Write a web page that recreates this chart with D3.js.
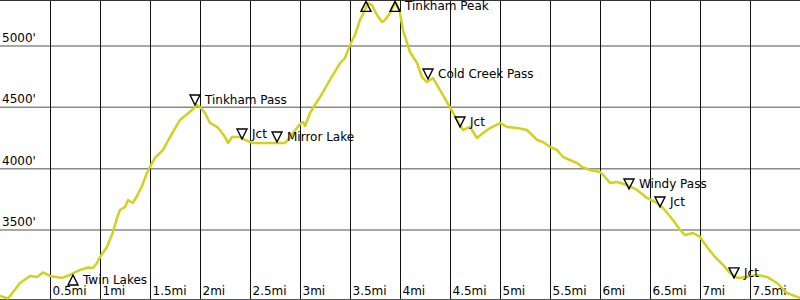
<!DOCTYPE html>
<html><head><meta charset="utf-8">
<script src="https://cdn.jsdelivr.net/npm/d3@7"></script>
<style>body{margin:0;background:#fff}svg{display:block}</style>
</head><body><svg id="c" width="800" height="300"></svg>
<script>
const miles = [0,0.08,0.2,0.3,0.37,0.43,0.5,0.62,0.7,0.8,0.88,0.93,0.97,1.0,1.07,1.13,1.17,1.2,1.25,1.28,1.33,1.37,1.42,1.47,1.5,1.55,1.63,1.7,1.8,1.92,1.97,2.0,2.05,2.1,2.17,2.2,2.25,2.28,2.32,2.4,2.45,2.53,2.7,2.85,2.9,3.0,3.03,3.05,3.1,3.2,3.3,3.4,3.45,3.5,3.55,3.6,3.65,3.68,3.72,3.77,3.82,3.85,3.9,3.93,3.96,4.0,4.03,4.1,4.17,4.22,4.27,4.33,4.4,4.47,4.53,4.6,4.63,4.7,4.77,4.83,4.9,5.0,5.07,5.17,5.27,5.37,5.43,5.5,5.57,5.63,5.77,5.82,5.9,6.0,6.05,6.1,6.17,6.27,6.37,6.47,6.57,6.63,6.73,6.8,6.85,6.93,7.0,7.07,7.15,7.23,7.3,7.37,7.47,7.57,7.67,7.77,7.87,7.97,8.0];
const elevation = [2958,2937,3064,3121,3113,3150,3121,3105,3129,3170,3190,3186,3227,3276,3357,3480,3594,3659,3683,3740,3716,3773,3855,3961,4010,4083,4148,4254,4393,4474,4515,4499,4450,4368,4336,4311,4254,4205,4254,4254,4230,4205,4205,4205,4254,4360,4376,4344,4450,4580,4719,4857,4898,5004,5086,5208,5289,5346,5330,5249,5192,5208,5265,5314,5346,5265,5126,4947,4857,4743,4702,4735,4637,4539,4450,4352,4311,4336,4246,4287,4327,4368,4336,4327,4311,4230,4213,4173,4148,4091,4042,4010,3985,3969,3928,3879,3887,3863,3822,3757,3716,3675,3577,3496,3455,3471,3439,3357,3276,3211,3145,3105,3113,3129,3113,3064,2982,2950,2942];

const markerNames = ["Twin Lakes","Tinkham Pass","Jct","Mirror Lake","","Tinkham Peak","Cold Creek Pass","Jct","Windy Pass","Jct","Jct"];
const markerMiles = [0.73,1.95,2.42,2.77,3.66,3.95,4.28,4.60,6.29,6.60,7.34];
const markerElev  = [3129,4515,4238,4213,5360,5360,4727,4336,3830,3683,3105];
const markerDir   = ["up","down","down","down","up","up","down","down","down","down","down"];

const xTicks = [0.5,1,1.5,2,2.5,3,3.5,4,4.5,5,5.5,6,6.5,7,7.5];
const yTicks = [3500,4000,4500,5000];

const W = 800, H = 300;
const svg = d3.select("#c");
const x = d3.scaleLinear().domain([0, 8]).range([0, W]);
const y = d3.scaleLinear().domain([2925, 5371]).range([H, 0]);

const font = "DejaVu Sans, sans-serif";

// horizontal grid + labels
const ya = svg.append("g").call(d3.axisLeft(y).tickValues(yTicks).tickSize(-W).tickFormat(d => d + "'"));
ya.select(".domain").remove();
ya.selectAll(".tick line").attr("stroke", "#8a8a8a").attr("stroke-width", 1.5);
ya.selectAll(".tick text").attr("x", 2).attr("dy", "-4").attr("text-anchor", "start")
  .attr("font-family", font).attr("font-size", 12).attr("fill", "#000");

// vertical grid + labels
const xa = svg.append("g").attr("transform", `translate(0,${H})`)
  .call(d3.axisBottom(x).tickValues(xTicks).tickSize(-H).tickFormat(d => d + "mi"));
xa.select(".domain").remove();
xa.selectAll(".tick line").attr("stroke", "#111").attr("stroke-width", 1);
xa.selectAll(".tick text").attr("x", 2).attr("y", -5).attr("dy", 0).attr("text-anchor", "start")
  .attr("font-family", font).attr("font-size", 12).attr("fill", "#000");

// border lines
svg.append("line").attr("x1",0).attr("x2",W).attr("y1",0.5).attr("y2",0.5).attr("stroke","#333");
svg.append("line").attr("x1",0).attr("x2",W).attr("y1",H-0.5).attr("y2",H-0.5).attr("stroke","#555");

// profile line
const data = miles.map((m, i) => [m, elevation[i]]);
svg.append("path").datum(data)
  .attr("d", d3.line().x(d => x(d[0])).y(d => y(d[1])))
  .attr("fill", "none").attr("stroke", "#d2d21e").attr("stroke-width", 2.5)
  .attr("stroke-linejoin", "round").attr("stroke-linecap", "round");

// markers
const mk = svg.append("g");
markerNames.forEach((name, i) => {
  const px = x(markerMiles[i]), py = y(markerElev[i]);
  const s = 5, h = 10;
  let path, bottom;
  if (markerDir[i] === "down") {
    path = `M${px},${py}L${px - s},${py - h}L${px + s},${py - h}Z`;
    bottom = py;
  } else {
    path = `M${px},${py}L${px - s},${py + h}L${px + s},${py + h}Z`;
    bottom = py + h;
  }
  mk.append("path").attr("d", path).attr("fill", "none").attr("stroke", "#000").attr("stroke-width", 1.4);
  if (name) {
    mk.append("text").attr("x", px + s + 5).attr("y", bottom - 1)
      .attr("font-family", font).attr("font-size", 12).attr("fill", "#000").text(name);
  }
});
</script></body></html>
